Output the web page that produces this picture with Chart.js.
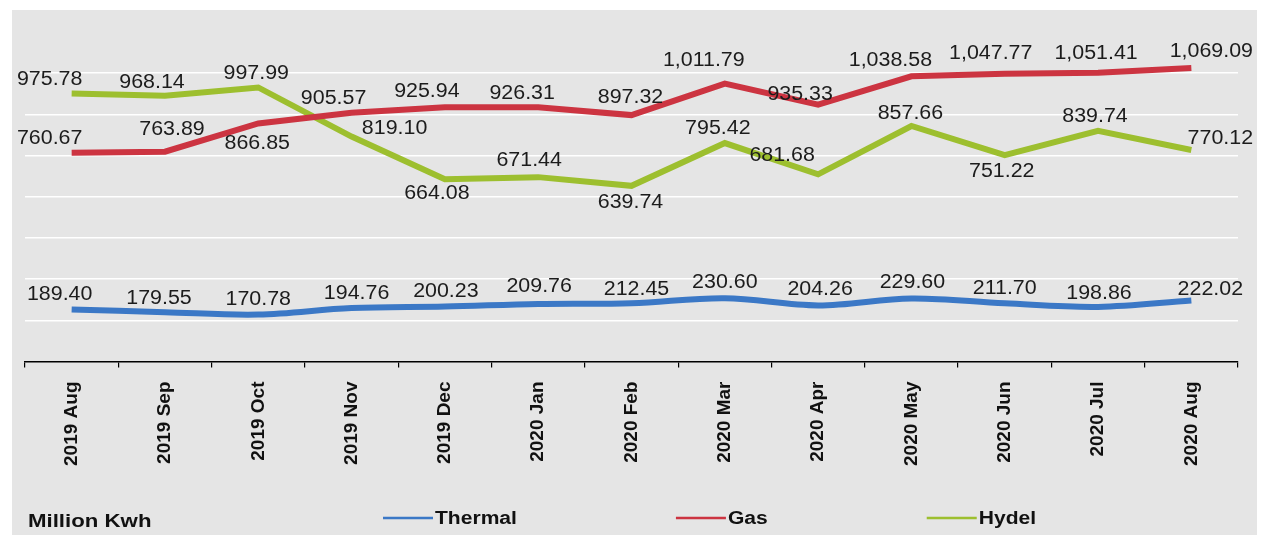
<!DOCTYPE html>
<html><head><meta charset="utf-8">
<script src="https://cdn.jsdelivr.net/npm/chart.js@4.4.1/dist/chart.umd.min.js"></script>
<style>html,body{margin:0;padding:0;background:#fff;overflow:hidden;} canvas{display:block;}</style>
</head><body>
<canvas id="c" width="1263" height="535"></canvas>
<script>
const categories = ['2019 Aug','2019 Sep','2019 Oct','2019 Nov','2019 Dec','2020 Jan','2020 Feb','2020 Mar','2020 Apr','2020 May','2020 Jun','2020 Jul','2020 Aug'];
const thermal = [189.40,179.55,170.78,194.76,200.23,209.76,212.45,230.60,204.26,229.60,211.70,198.86,222.02];
const gas     = [760.67,763.89,866.85,905.57,925.94,926.31,897.32,1011.79,935.33,1038.58,1047.77,1051.41,1069.09];
const hydel   = [975.78,968.14,997.99,819.10,664.08,671.44,639.74,795.42,681.68,857.66,751.22,839.74,770.12];
const seriesNames = ['Thermal','Gas','Hydel'];
const unitLabel = 'Million Kwh';
const yMin = 0, yMax = 1200, yStep = 150;

// label placement (offsets of each value label from its point, px)
const labelOffsets = [
  [[-12,-15],[-6,-14],[0,-15],[5,-15],[1,-15],[1,-17],[5,-14],[0,-16],[2,-16],[1,-16],[0,-15],[1,-13],[19,-11]],
  [[-22,-14],[7,-22],[-1,20],[-18,-14],[-18,-16],[-16,-14],[-1,-18],[-21,-23],[-18,-10],[-21,-16],[-14,-20],[-2,-19],[20,-16]],
  [[-22,-14],[-13,-13],[-2,-14],[43,-8],[-8,14],[-9,-17],[-1,17],[-7,-15],[-36,-19],[-1,-13],[-3,16],[-3,-14],[29,-12]]
];
const colors = ['#3b78c6','#cc3441','#9dbf2f'];
const FONT = '"Liberation Sans", Arial, sans-serif';
const fmt = v => v.toLocaleString('en-US',{minimumFractionDigits:2, maximumFractionDigits:2});

const bgPlugin = {
  id:'bg',
  beforeDraw(chart){
    const ctx = chart.ctx;
    ctx.save();
    ctx.fillStyle = '#ffffff';
    ctx.fillRect(0,0,chart.width,chart.height);
    ctx.fillStyle = '#e5e5e5';
    ctx.fillRect(12,10,1245,525);
    ctx.restore();
  }
};

const valueLabels = {
  id:'valueLabels',
  afterDatasetsDraw(chart){
    const ctx = chart.ctx;
    ctx.save();
    ctx.font = '20px ' + FONT;
    ctx.fillStyle = '#1c1c1c';
    ctx.textAlign = 'center';
    ctx.textBaseline = 'middle';
    chart.data.datasets.forEach((ds, di) => {
      const meta = chart.getDatasetMeta(di);
      meta.data.forEach((pt, i) => {
        const off = labelOffsets[di][i];
        ctx.save();
        ctx.translate(pt.x + off[0], pt.y + off[1]);
        ctx.scale(1.07, 1);
        ctx.fillText(fmt(ds.data[i]), 0, 0);
        ctx.restore();
      });
    });
    ctx.restore();
  }
};

const customLegend = {
  id:'customLegend',
  afterDraw(chart){
    const ctx = chart.ctx;
    const y = 518;
    ctx.save();
    ctx.textBaseline = 'middle';
    ctx.textAlign = 'left';
    ctx.fillStyle = '#111';
    ctx.font = 'bold 19px ' + FONT;
    ctx.save(); ctx.translate(28, y+4); ctx.scale(1.17,1); ctx.fillText(unitLabel, 0, 0); ctx.restore();
    ctx.font = 'bold 18px ' + FONT;
    let x = 383;
    chart.data.datasets.forEach((ds) => {
      ctx.strokeStyle = ds.borderColor;
      ctx.lineWidth = 2.5;
      ctx.beginPath(); ctx.moveTo(x, y); ctx.lineTo(x+50, y); ctx.stroke();
      const tx = x + 52;
      ctx.save(); ctx.translate(tx, y+1); ctx.scale(1.17,1); ctx.fillStyle = '#111'; ctx.fillText(ds.label, 0, 0); ctx.restore();
      const tw = ctx.measureText(ds.label).width * 1.17;
      x = tx + tw + 159;
    });
    ctx.restore();
  }
};

const series = [thermal, gas, hydel];
new Chart(document.getElementById('c'), {
  type:'line',
  data:{
    labels: categories,
    datasets: series.map((d, i) => ({
      label: seriesNames[i],
      data: d,
      borderColor: colors[i],
      backgroundColor: colors[i],
      borderWidth: 6,
      pointRadius: 0,
      pointHoverRadius: 0,
      tension: i === 0 ? 0.35 : 0,
      fill: false
    }))
  },
  options:{
    responsive:false,
    animation:false,
    devicePixelRatio:1,
    layout:{padding:{left:25, right:25, top:32, bottom:55}},
    plugins:{legend:{display:false}, tooltip:{enabled:false}},
    scales:{
      x:{
        offset:true,
        grid:{offset:true, drawOnChartArea:false, drawTicks:true, tickLength:6, color:'#000', lineWidth:1.2},
        border:{display:true, color:'#000', width:1.5},
        ticks:{minRotation:90, maxRotation:90, autoSkip:false, padding:14, color:'#111',
          font:{family:FONT, size:19, weight:'bold'}}
      },
      y:{
        min:yMin, max:yMax,
        ticks:{display:false, stepSize:yStep},
        border:{display:false},
        grid:{drawTicks:false, lineWidth:1.6,
          color: c => (c.tick.value === yMin || c.tick.value === yMax) ? 'rgba(0,0,0,0)' : '#ffffff'}
      }
    }
  },
  plugins:[bgPlugin, valueLabels, customLegend]
});
</script>
</body></html>
